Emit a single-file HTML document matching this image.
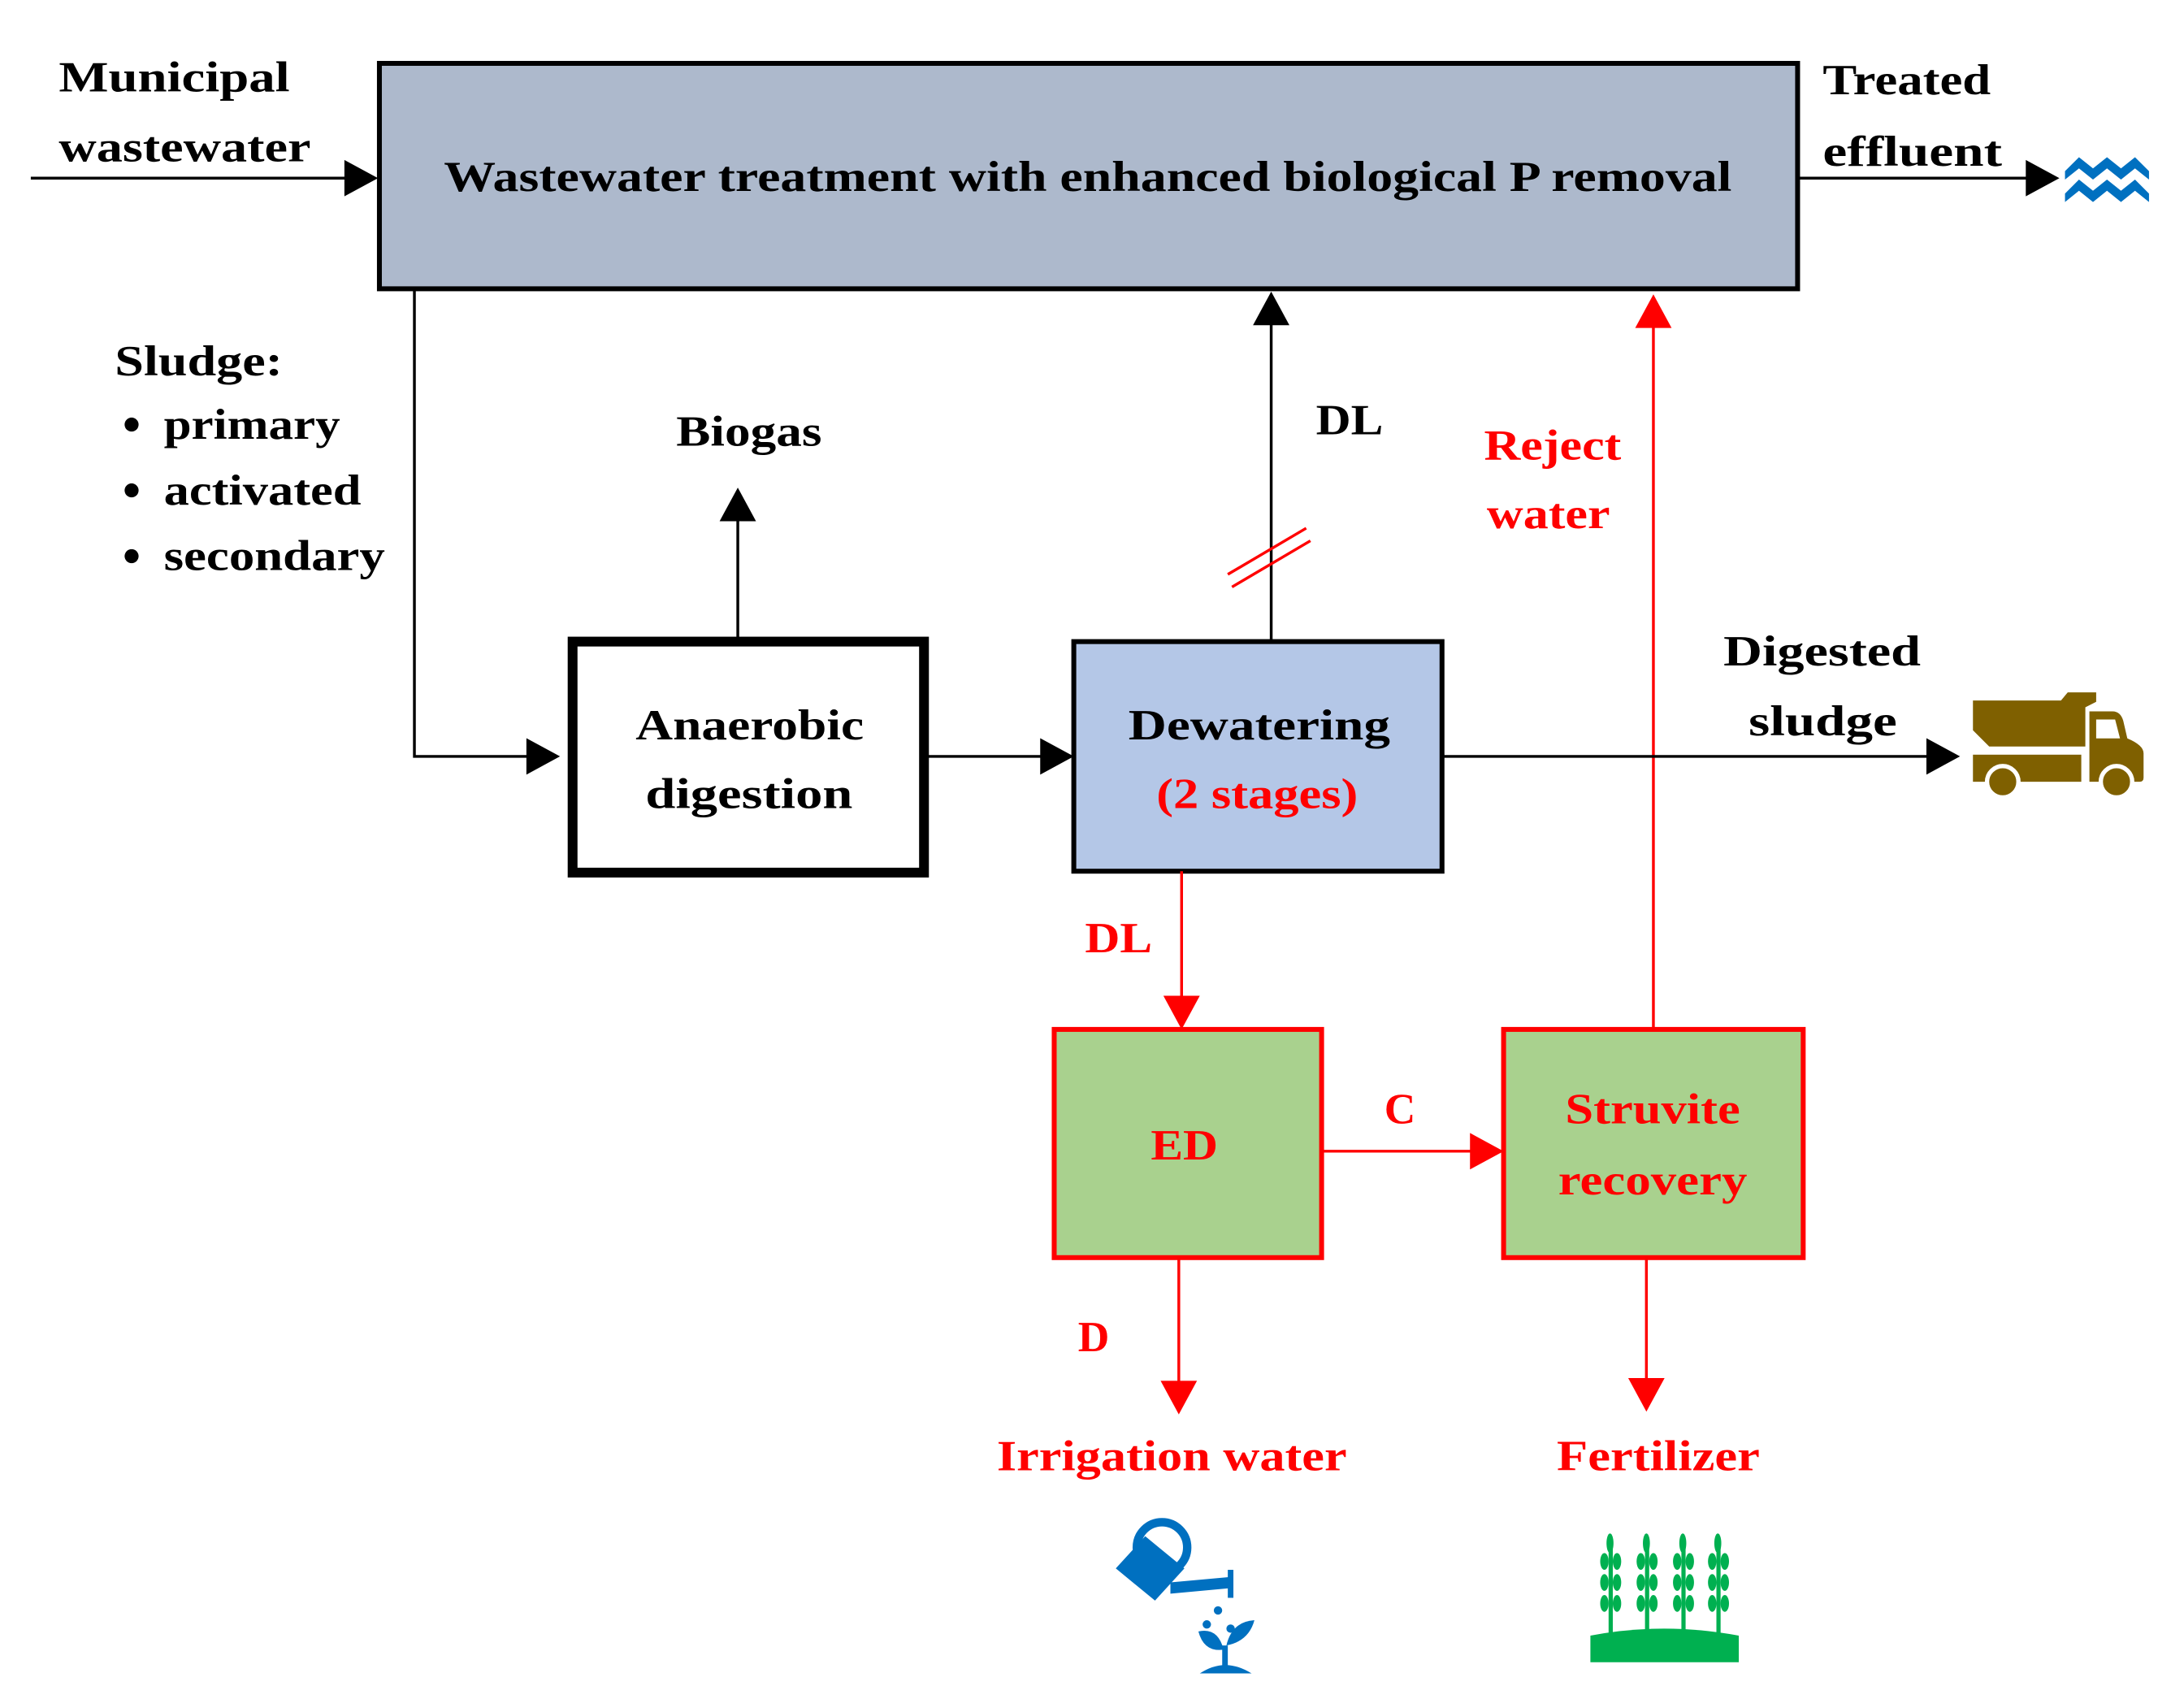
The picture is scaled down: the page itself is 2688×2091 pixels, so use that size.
<!DOCTYPE html>
<html><head><meta charset="utf-8"><style>
html,body{margin:0;padding:0;background:#fff;}
svg{display:block;}
text{font-family:"Liberation Serif",serif;font-weight:bold;font-size:31px;}
</style></head><body>
<svg width="2688" height="2091" viewBox="0 0 1560 1213" xmlns="http://www.w3.org/2000/svg">
<rect width="1560" height="1213" fill="#fff"/>
<!-- top box -->
<rect x="271" y="45" width="1013" height="161" fill="#adb9cc" stroke="#000" stroke-width="3.5"/>
<text x="777" y="136" text-anchor="middle" textLength="920" lengthAdjust="spacingAndGlyphs">Wastewater treatment with enhanced biological P removal</text>
<text x="42" y="65" textLength="165" lengthAdjust="spacingAndGlyphs">Municipal</text>
<text x="42" y="115" textLength="180" lengthAdjust="spacingAndGlyphs">wastewater</text>
<line x1="22" y1="127" x2="248" y2="127" stroke="#000" stroke-width="2"/>
<path d="M246,114L270,127L246,140z"/>
<text x="1302" y="67" textLength="120" lengthAdjust="spacingAndGlyphs">Treated</text>
<text x="1302" y="118" textLength="128" lengthAdjust="spacingAndGlyphs">effluent</text>
<line x1="1284" y1="127" x2="1450" y2="127" stroke="#000" stroke-width="2"/>
<path d="M1447,114L1471,127L1447,140z"/>
<g fill="#0070c0">
<path d="M1475,122l10,-10l10,8l10,-8l10,8l10,-8l10,10v6l-10,-8l-10,8l-10,-8l-10,8l-10,-8l-10,8z"/>
<path d="M1475,138l10,-10l10,8l10,-8l10,8l10,-8l10,10v6l-10,-8l-10,8l-10,-8l-10,8l-10,-8l-10,8z"/>
</g>
<!-- sludge -->
<text x="82" y="268" textLength="120" lengthAdjust="spacingAndGlyphs">Sludge:</text>
<circle cx="94" cy="303" r="5"/><text x="117" y="313" textLength="126" lengthAdjust="spacingAndGlyphs">primary</text>
<circle cx="94" cy="350" r="5"/><text x="117" y="360" textLength="141" lengthAdjust="spacingAndGlyphs">activated</text>
<circle cx="94" cy="397" r="5"/><text x="117" y="407" textLength="158" lengthAdjust="spacingAndGlyphs">secondary</text>
<polyline points="296,206 296,540 378,540" fill="none" stroke="#000" stroke-width="2"/>
<path d="M376,527L400,540L376,553z"/>
<!-- anaerobic -->
<rect x="409" y="458" width="251" height="165" fill="#fff" stroke="#000" stroke-width="7"/>
<text x="454" y="528" textLength="163" lengthAdjust="spacingAndGlyphs">Anaerobic</text>
<text x="461" y="577" textLength="148" lengthAdjust="spacingAndGlyphs">digestion</text>
<line x1="527" y1="455" x2="527" y2="370" stroke="#000" stroke-width="2"/>
<path d="M514,372L527,348L540,372z"/>
<text x="483" y="318" textLength="104" lengthAdjust="spacingAndGlyphs">Biogas</text>
<line x1="663" y1="540" x2="745" y2="540" stroke="#000" stroke-width="2"/>
<path d="M743,527L767,540L743,553z"/>
<!-- dewatering -->
<rect x="767" y="458" width="263" height="164" fill="#b4c7e7" stroke="#000" stroke-width="3.5"/>
<text x="806" y="528" textLength="187" lengthAdjust="spacingAndGlyphs">Dewatering</text>
<text x="826" y="577" fill="#ff0000" textLength="144" lengthAdjust="spacingAndGlyphs">(2 stages)</text>
<line x1="908" y1="458" x2="908" y2="228" stroke="#000" stroke-width="2"/>
<path d="M895,232L908,208L921,232z"/>
<text x="940" y="310" textLength="48" lengthAdjust="spacingAndGlyphs">DL</text>
<line x1="877" y1="410" x2="933" y2="377" stroke="#ff0000" stroke-width="2"/>
<line x1="880" y1="419" x2="936" y2="386" stroke="#ff0000" stroke-width="2"/>
<!-- reject water -->
<line x1="1181" y1="735" x2="1181" y2="230" stroke="#ff0000" stroke-width="2"/>
<path d="M1168,234L1181,210L1194,234z" fill="#ff0000"/>
<text x="1060" y="328" fill="#ff0000" textLength="98" lengthAdjust="spacingAndGlyphs">Reject</text>
<text x="1062" y="377" fill="#ff0000" textLength="88" lengthAdjust="spacingAndGlyphs">water</text>
<!-- digested sludge -->
<line x1="1030" y1="540" x2="1378" y2="540" stroke="#000" stroke-width="2"/>
<path d="M1376,527L1400,540L1376,553z"/>
<text x="1231" y="475" textLength="141" lengthAdjust="spacingAndGlyphs">Digested</text>
<text x="1249" y="525" textLength="106" lengthAdjust="spacingAndGlyphs">sludge</text>
<g transform="translate(1381.2,475.9) scale(0.19345)">
<g fill="#7f6000">
<path d="M145,125H470L495,95H600V130L560,150V295H205L145,235Z"/>
<rect x="145" y="325" width="400" height="100"/>
<path d="M575,165H660Q690,165 700,200L715,265Q775,290 775,320V410Q775,425 760,425H575Z"/>
</g>
<path d="M600,195H670L688,265H600Z" fill="#fff"/>
<circle cx="255" cy="425" r="58" fill="#7f6000" stroke="#fff" stroke-width="16"/>
<circle cx="675" cy="425" r="58" fill="#7f6000" stroke="#fff" stroke-width="16"/>
</g>
<!-- DL red -->
<line x1="844" y1="622" x2="844" y2="713" stroke="#ff0000" stroke-width="2"/>
<path d="M831,711L844,735L857,711z" fill="#ff0000"/>
<text x="775" y="680" fill="#ff0000" textLength="48" lengthAdjust="spacingAndGlyphs">DL</text>
<!-- ED -->
<rect x="753" y="735" width="191" height="163" fill="#a9d18e" stroke="#ff0000" stroke-width="3.5"/>
<text x="822" y="828" fill="#ff0000" textLength="48" lengthAdjust="spacingAndGlyphs">ED</text>
<line x1="944" y1="822" x2="1052" y2="822" stroke="#ff0000" stroke-width="2"/>
<path d="M1050,809L1074,822L1050,835z" fill="#ff0000"/>
<text x="1000" y="802" text-anchor="middle" fill="#ff0000">C</text>
<rect x="1074" y="735" width="214" height="163" fill="#a9d18e" stroke="#ff0000" stroke-width="3.5"/>
<text x="1118" y="802" fill="#ff0000" textLength="125" lengthAdjust="spacingAndGlyphs">Struvite</text>
<text x="1113" y="853" fill="#ff0000" textLength="135" lengthAdjust="spacingAndGlyphs">recovery</text>
<line x1="842" y1="898" x2="842" y2="988" stroke="#ff0000" stroke-width="2"/>
<path d="M829,986L842,1010L855,986z" fill="#ff0000"/>
<text x="770" y="965" fill="#ff0000">D</text>
<line x1="1176" y1="898" x2="1176" y2="986" stroke="#ff0000" stroke-width="2"/>
<path d="M1163,984L1176,1008L1189,984z" fill="#ff0000"/>
<text x="712" y="1050" fill="#ff0000" textLength="250" lengthAdjust="spacingAndGlyphs">Irrigation water</text>
<text x="1112" y="1050" fill="#ff0000" textLength="145" lengthAdjust="spacingAndGlyphs">Fertilizer</text>
<!-- watering can -->
<g fill="#0070c0">
<circle cx="830" cy="1105" r="18" fill="none" stroke="#0070c0" stroke-width="6"/>
<path d="M797,1120L818,1097L846,1120L825,1143z"/>
<path d="M836,1130L880,1126V1134L836,1138z"/>
<rect x="877" y="1121" width="4" height="20"/>
<circle cx="870" cy="1150" r="3"/><circle cx="862" cy="1160" r="3"/><circle cx="879" cy="1163" r="3"/>
<path d="M875,1195V1175" stroke="#0070c0" stroke-width="4"/>
<path d="M874,1178Q860,1180 856,1165Q870,1162 874,1178z"/>
<path d="M876,1175Q892,1172 896,1157Q880,1158 876,1175z"/>
<path d="M857,1195Q875,1183 894,1195z"/>
</g>
<!-- wheat -->
<g fill="#00b050">
<path d="M1136,1187V1168Q1188,1158 1242,1168V1187z"/>
<g id="w"><rect x="1149" y="1100" width="3" height="66"/>
<ellipse cx="1146" cy="1115" rx="3" ry="6"/><ellipse cx="1155" cy="1115" rx="3" ry="6"/>
<ellipse cx="1146" cy="1130" rx="3" ry="6"/><ellipse cx="1155" cy="1130" rx="3" ry="6"/>
<ellipse cx="1146" cy="1145" rx="3" ry="6"/><ellipse cx="1155" cy="1145" rx="3" ry="6"/>
<ellipse cx="1150" cy="1102" rx="2.5" ry="7"/></g>
<use href="#w" x="26"/><use href="#w" x="52"/><use href="#w" x="77"/>
</g>
</svg>
</body></html>
